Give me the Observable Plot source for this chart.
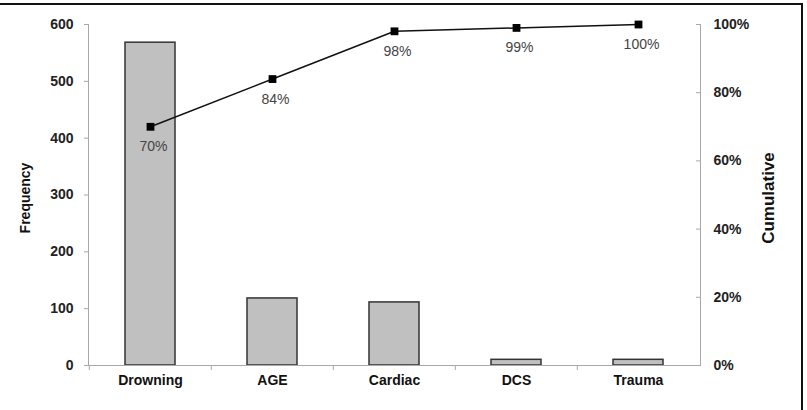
<!DOCTYPE html>
<html>
<head>
<meta charset="utf-8">
<script src="https://cdn.jsdelivr.net/npm/d3@7"></script>
<script src="https://cdn.jsdelivr.net/npm/@observablehq/plot@0.6"></script>
<style>
  body { margin: 0; background: #fff; }
  #chart { position: relative; width: 807px; height: 410px; overflow: hidden; }
  #chart svg { display: block; }
  #chart .edge {
    position: absolute; top: 3px; left: 0; width: 801px; height: 407px;
    border-top: 2px solid #111; border-right: 2px solid #111; pointer-events: none;
  }
</style>
</head>
<body>
<div id="chart"><div class="edge"></div></div>
<script>
// Causes of death, their counts and the running cumulative share
const causes = ["Drowning", "AGE", "Cardiac", "DCS", "Trauma"];
const frequency = [568, 118, 111, 10, 10];
const cumulativePct = [70, 84, 98, 99, 100];
const freqTicks = [0, 100, 200, 300, 400, 500, 600];
const pctTicks = [0, 20, 40, 60, 80, 100];
const freqMax = 600;

const rows = causes.map((cause, i) => ({cause, n: frequency[i], cum: cumulativePct[i]}));
// the percentage axis shares the frequency scale: 100% sits at the top of the count axis
const toFreq = p => p / 100 * freqMax;

const W = 807, H = 410, mL = 88, mR = 107, mT = 24, mB = 45;
const step = (W - mL - mR) / causes.length;
const axisGrey = "#a8a8a8";
const font = "'Liberation Sans', Arial, Helvetica, sans-serif";

const chart = Plot.plot({
  width: W, height: H,
  marginLeft: mL, marginRight: mR, marginTop: mT, marginBottom: mB,
  style: {fontFamily: font, color: "#222", background: "transparent"},
  x: {type: "band", domain: causes, paddingInner: 0.59, paddingOuter: 0.295, label: null},
  y: {domain: [0, freqMax], label: null},
  marks: [
    Plot.barY(rows, {x: "cause", y: "n", fill: "#c0c0c0", stroke: "#333", strokeWidth: 1.5}),
    Plot.ruleY([0], {stroke: axisGrey}),
    Plot.frame({anchor: "left", stroke: axisGrey}),
    Plot.frame({anchor: "right", stroke: axisGrey}),
    // left count axis
    Plot.axisY(freqTicks, {anchor: "left", tickSize: 4, tickPadding: 11, stroke: axisGrey,
      fill: "#222", fontWeight: "bold", fontSize: 14, label: null}),
    // right percentage axis, ticks pointing inward
    Plot.axisY(pctTicks.map(toFreq), {anchor: "right", tickSize: 5, dx: -5, tickPadding: 13,
      stroke: axisGrey, fill: "#222", fontWeight: "bold", fontSize: 14, label: null,
      tickFormat: d => `${Math.round(d / freqMax * 100)}%`}),
    // category names and the tick marks between categories
    Plot.axisX({anchor: "bottom", tickSize: 0, tickPadding: 10, fill: "#111",
      fontWeight: "bold", fontSize: 14, label: null}),
    Plot.axisX({anchor: "bottom", tickSize: 5, dx: -step / 2, fill: "none", stroke: axisGrey, label: null}),
    // cumulative line
    Plot.line(rows, {x: "cause", y: d => toFreq(d.cum), stroke: "#111", strokeWidth: 1.5}),
    Plot.dot(rows, {x: "cause", y: d => toFreq(d.cum), symbol: "square", r: 4.4, fill: "#000", stroke: null}),
    Plot.text(rows, {x: "cause", y: d => toFreq(d.cum), text: d => `${d.cum}%`, dy: 20, dx: 3,
      fill: "#444", fontSize: 14}),
    // axis titles
    Plot.text(["Frequency"], {frameAnchor: "left", textAnchor: "middle", dx: -63, dy: 3, rotate: -90,
      fontWeight: "bold", fontSize: 14, fill: "#111"}),
    Plot.text(["Cumulative"], {frameAnchor: "right", textAnchor: "middle", dx: 68, dy: 3, rotate: -90,
      fontWeight: "bold", fontSize: 17, fill: "#111"})
  ]
});

document.getElementById("chart").prepend(chart);
</script>
</body>
</html>
